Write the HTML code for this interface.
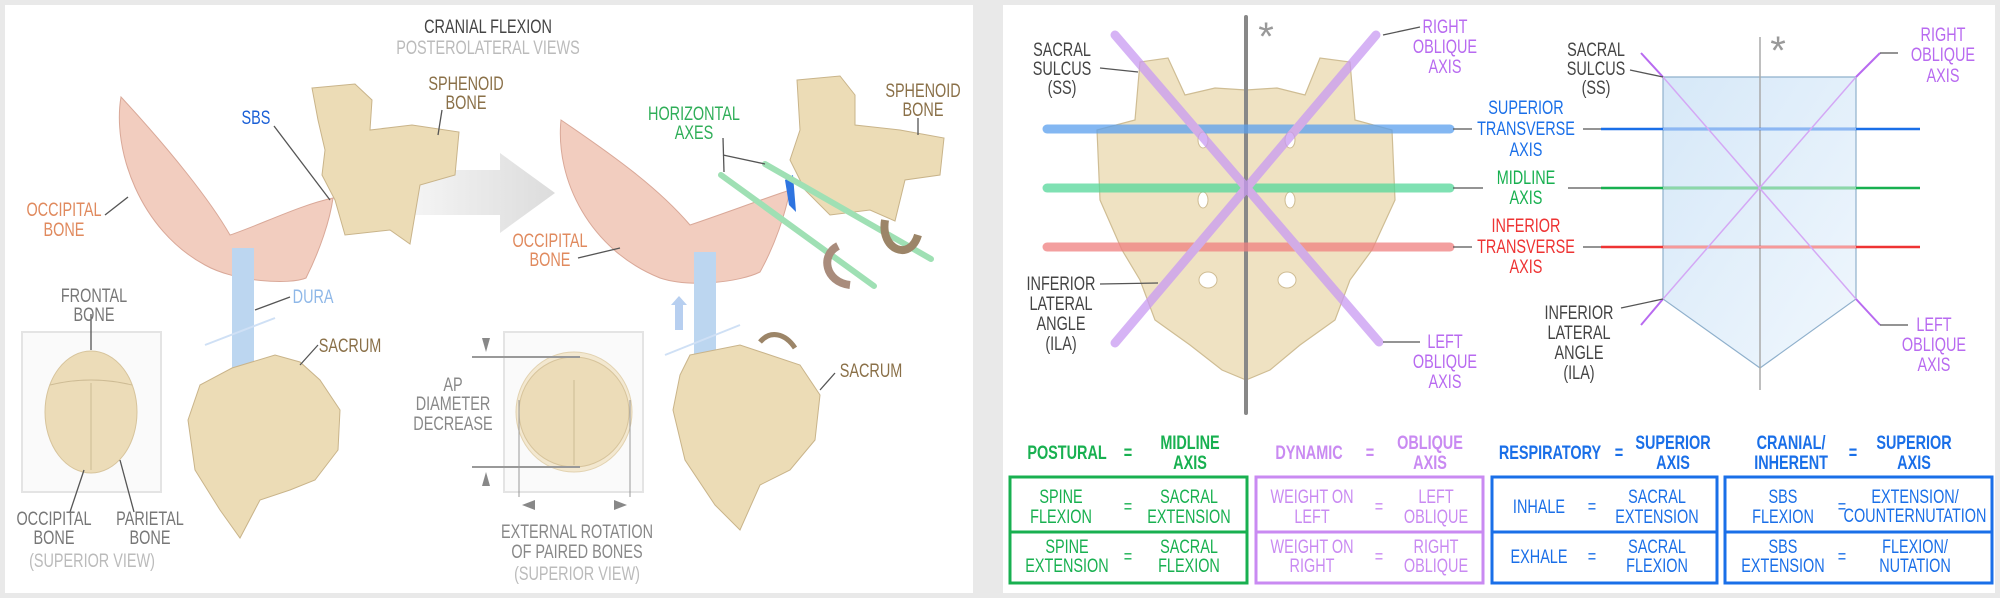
<!DOCTYPE html>
<html><head><meta charset="utf-8"><style>
html,body{margin:0;padding:0;background:#e9e9e9;}
svg{display:block}
text{font-family:"Liberation Sans Narrow","Liberation Sans",sans-serif;text-anchor:middle;font-size:19px;transform-box:fill-box;transform-origin:center;transform:scaleX(0.76)}
text.ast{transform:none;font-size:40px}
</style></head><body>
<svg width="2000" height="598" viewBox="0 0 2000 598" xmlns="http://www.w3.org/2000/svg">
<defs>
<linearGradient id="arr" x1="0" x2="1"><stop offset="0" stop-color="#f4f4f4"/><stop offset="1" stop-color="#dcdcdc"/></linearGradient>
<linearGradient id="pent" x1="0" y1="0" x2="1" y2="1"><stop offset="0" stop-color="#d6e8f8"/><stop offset="1" stop-color="#f0f7fd"/></linearGradient>
</defs>
<rect x="0" y="0" width="2000" height="598" fill="#e9e9e9"/>
<rect x="5" y="5" width="968" height="588" fill="#fff"/>
<rect x="1003" y="5" width="992" height="588" fill="#fff"/>

<text x="488" y="33" font-size="28" fill="#444">CRANIAL FLEXION</text>
<text x="488" y="54" font-size="17" fill="#bbb">POSTEROLATERAL VIEWS</text>

<polygon points="415,170 500,170 500,153 555,193 500,233 500,215 415,215" fill="url(#arr)"/>

<path d="M121,97 C112,150 140,230 205,265 C235,282 290,285 306,278 C320,250 330,220 333,198 C300,205 260,225 230,235 C210,200 170,150 121,97 Z" fill="#f2cdbf" stroke="#d9a898" stroke-width="1"/>
<path d="M312,88 L355,84 L372,100 L370,130 L412,125 L459,132 L455,175 L420,185 L410,244 L390,230 L345,235 L335,200 L322,175 L325,150 L318,120 Z" fill="#ecdcb6" stroke="#c9b48a" stroke-width="1"/>
<rect x="232" y="248" width="22" height="130" fill="#bcd6f0"/>
<line x1="205" y1="345" x2="275" y2="318" stroke="#cfe0f5" stroke-width="2"/>
<path d="M232,368 L275,355 L300,362 L320,380 L340,410 L338,450 L315,480 L290,490 L260,500 L240,538 L220,510 L195,470 L188,420 L200,385 Z" fill="#ecdcb6" stroke="#c9b48a" stroke-width="1"/>

<path d="M561,120 C555,180 590,250 660,278 C690,288 740,282 760,272 C775,245 785,215 790,190 C760,200 720,215 690,225 C660,190 620,160 561,120 Z" fill="#f2cdbf" stroke="#d9a898" stroke-width="1"/>
<path d="M797,80 L840,76 L855,95 L855,125 L900,130 L944,138 L940,175 L905,180 L895,221 L870,210 L830,215 L805,190 L790,160 L800,130 Z" fill="#ecdcb6" stroke="#c9b48a" stroke-width="1"/>
<polygon points="785,180 793,175 796,212 789,205" fill="#2e74e0"/>
<line x1="721" y1="175" x2="874" y2="286" stroke="#9fe0b4" stroke-width="6" stroke-linecap="round"/>
<line x1="765" y1="164" x2="931" y2="259" stroke="#9fe0b4" stroke-width="6" stroke-linecap="round"/>
<path d="M838,246 C820,255 825,282 850,285" fill="none" stroke="#a98c7c" stroke-width="8"/>
<path d="M885,220 C880,250 910,262 918,235" fill="none" stroke="#9c8568" stroke-width="8"/>
<rect x="694" y="252" width="22" height="128" fill="#bcd6f0"/>
<polygon points="679,296 687,305 683,305 683,330 675,330 675,305 671,305" fill="#b7cff0"/>
<line x1="665" y1="355" x2="740" y2="325" stroke="#cfe0f5" stroke-width="2"/>
<path d="M690,355 L740,345 L770,355 L800,365 L820,395 L815,440 L790,470 L760,485 L740,530 L715,505 L685,460 L673,410 L680,375 Z" fill="#ecdcb6" stroke="#c9b48a" stroke-width="1"/>
<path d="M760,342 C770,330 785,333 795,348" fill="none" stroke="#9c8568" stroke-width="5"/>

<rect x="22" y="332" width="139" height="160" fill="#fafafa" stroke="#e4e4e4" stroke-width="2"/>
<ellipse cx="91" cy="412" rx="46" ry="61" fill="#ecdcb8" stroke="#d7c49c"/>
<line x1="91" y1="383" x2="91" y2="470" stroke="#cdbb94"/>
<path d="M50,385 Q91,375 132,385" fill="none" stroke="#cdbb94"/>
<rect x="504" y="332" width="139" height="160" fill="#fafafa" stroke="#e4e4e4" stroke-width="2"/>
<ellipse cx="574" cy="412" rx="58" ry="60" fill="#f3e8d0" stroke="#e2d2b0"/>
<ellipse cx="574" cy="412" rx="55" ry="55" fill="#ecdcb8" stroke="#d7c49c"/>
<line x1="574" y1="380" x2="574" y2="465" stroke="#cdbb94"/>
<line x1="472" y1="357" x2="580" y2="357" stroke="#999" stroke-width="2"/>
<line x1="472" y1="467" x2="580" y2="467" stroke="#999" stroke-width="2"/>
<polygon points="482,338 490,338 486,352" fill="#888"/>
<polygon points="482,486 490,486 486,472" fill="#888"/>
<line x1="519" y1="400" x2="519" y2="497" stroke="#999"/>
<line x1="630" y1="400" x2="630" y2="497" stroke="#999"/>
<polygon points="522,505 535,500 535,510" fill="#888"/>
<polygon points="627,505 614,500 614,510" fill="#888"/>

<g stroke="#555" stroke-width="1.3" fill="none">
<line x1="442" y1="110" x2="438" y2="135"/>
<line x1="274" y1="126" x2="330" y2="200"/>
<line x1="105" y1="215" x2="128" y2="197"/>
<line x1="290" y1="297" x2="255" y2="310"/>
<line x1="91" y1="314" x2="91" y2="350"/>
<line x1="318" y1="345" x2="300" y2="365"/>
<line x1="70" y1="512" x2="84" y2="470"/>
<line x1="134" y1="512" x2="120" y2="460"/>
<line x1="723" y1="138" x2="724" y2="172"/><line x1="723" y1="155" x2="765" y2="164"/>
<line x1="918" y1="118" x2="918" y2="135"/>
<line x1="578" y1="258" x2="620" y2="248"/>
<line x1="835" y1="373" x2="820" y2="390"/>
</g>

<g>
<text x="466" y="90" fill="#8a7048">SPHENOID</text><text x="466" y="109" fill="#8a7048">BONE</text>
<text x="256" y="124" fill="#1a5fd6">SBS</text>
<text x="64" y="216" fill="#e08a5e">OCCIPITAL</text><text x="64" y="236" fill="#e08a5e">BONE</text>
<text x="313" y="303" fill="#8fb8e8">DURA</text>
<text x="94" y="302" fill="#777">FRONTAL</text><text x="94" y="321" fill="#777">BONE</text>
<text x="350" y="352" fill="#8a7048">SACRUM</text>
<text x="54" y="525" fill="#777">OCCIPITAL</text><text x="54" y="544" fill="#777">BONE</text>
<text x="150" y="525" fill="#777">PARIETAL</text><text x="150" y="544" fill="#777">BONE</text>
<text x="92" y="567" fill="#bbb">(SUPERIOR VIEW)</text>
<text x="694" y="120" fill="#2fae58">HORIZONTAL</text><text x="694" y="139" fill="#2fae58">AXES</text>
<text x="923" y="97" fill="#8a7048">SPHENOID</text><text x="923" y="116" fill="#8a7048">BONE</text>
<text x="550" y="247" fill="#e08a5e">OCCIPITAL</text><text x="550" y="266" fill="#e08a5e">BONE</text>
<text x="453" y="391" fill="#888">AP</text><text x="453" y="410" fill="#888">DIAMETER</text><text x="453" y="430" fill="#888">DECREASE</text>
<text x="577" y="538" fill="#888">EXTERNAL ROTATION</text><text x="577" y="558" fill="#888">OF PAIRED BONES</text>
<text x="577" y="580" fill="#bbb">(SUPERIOR VIEW)</text>
<text x="871" y="377" fill="#8a7048">SACRUM</text>
</g>

<!-- RIGHT PANEL -->
<path d="M1140,62 L1168,58 L1185,95 L1215,88 L1246,90 L1277,88 L1305,95 L1320,58 L1350,62 L1355,120 L1392,130 L1395,200 L1372,250 L1350,280 L1335,320 L1300,345 L1270,370 L1246,380 L1222,370 L1190,345 L1155,320 L1140,280 L1122,250 L1100,200 L1097,130 L1135,120 Z" fill="#efe2c2" stroke="#cfbd94" stroke-width="1.2"/>
<g fill="#fff" stroke="#cfbd94"><ellipse cx="1203" cy="140" rx="5" ry="8"/><ellipse cx="1290" cy="140" rx="5" ry="8"/><ellipse cx="1203" cy="200" rx="5" ry="8"/><ellipse cx="1290" cy="200" rx="5" ry="8"/><ellipse cx="1208" cy="280" rx="9" ry="8"/><ellipse cx="1287" cy="280" rx="9" ry="8"/></g>
<line x1="1246" y1="17" x2="1246" y2="413" stroke="#888" stroke-width="4" stroke-linecap="round"/>
<text class="ast" x="1266" y="50" fill="#999">*</text>
<g stroke-width="9" stroke-linecap="round" opacity="0.75">
<line x1="1047" y1="129" x2="1450" y2="129" stroke="#5aa0ee"/>
<line x1="1047" y1="188" x2="1450" y2="188" stroke="#55d89a"/>
<line x1="1047" y1="247" x2="1450" y2="247" stroke="#f08080"/>
<line x1="1115" y1="35" x2="1379" y2="342" stroke="#c99af2"/>
<line x1="1376" y1="35" x2="1115" y2="343" stroke="#c99af2"/>
</g>

<polygon points="1663,77 1856,77 1856,299 1760,368 1663,299" fill="url(#pent)" stroke="#8fb0cc" stroke-width="1.2"/>
<line x1="1760" y1="37" x2="1760" y2="390" stroke="#aaa" stroke-width="1.5"/>
<text class="ast" x="1778" y="64" fill="#999">*</text>
<g stroke-width="2.5">
<line x1="1601" y1="129" x2="1920" y2="129" stroke="#1a6fe8"/>
<line x1="1601" y1="188" x2="1920" y2="188" stroke="#18b050"/>
<line x1="1601" y1="247" x2="1920" y2="247" stroke="#ee3333"/>
</g>
<g stroke="#fff" stroke-width="2" opacity="0.5"><line x1="1663" y1="129" x2="1856" y2="129"/><line x1="1663" y1="188" x2="1856" y2="188"/><line x1="1663" y1="247" x2="1856" y2="247"/></g>
<g stroke="#d4a8f5" stroke-width="1.5"><line x1="1663" y1="77" x2="1856" y2="299"/><line x1="1856" y1="77" x2="1663" y2="299"/></g>
<g stroke="#b86af0" stroke-width="2"><line x1="1641" y1="53" x2="1663" y2="77"/><line x1="1880" y1="53" x2="1856" y2="77"/><line x1="1641" y1="325" x2="1663" y2="299"/><line x1="1880" y1="325" x2="1856" y2="299"/></g>

<g stroke="#555" stroke-width="1.3" fill="none">
<line x1="1100" y1="68" x2="1138" y2="72"/>
<line x1="1383" y1="35" x2="1420" y2="27"/>
<line x1="1453" y1="129" x2="1472" y2="129"/>
<line x1="1453" y1="188" x2="1483" y2="188"/>
<line x1="1453" y1="247" x2="1472" y2="247"/>
<line x1="1100" y1="284" x2="1158" y2="283"/>
<line x1="1383" y1="342" x2="1420" y2="342"/>
<line x1="1630" y1="70" x2="1663" y2="77"/>
<line x1="1583" y1="129" x2="1601" y2="129"/>
<line x1="1568" y1="188" x2="1601" y2="188"/>
<line x1="1583" y1="247" x2="1601" y2="247"/>
<line x1="1621" y1="308" x2="1663" y2="299"/>
<line x1="1880" y1="53" x2="1898" y2="53"/>
<line x1="1880" y1="325" x2="1908" y2="325"/>
</g>

<g>
<text x="1062" y="56" fill="#444">SACRAL</text><text x="1062" y="75" fill="#444">SULCUS</text><text x="1062" y="94" fill="#444">(SS)</text>
<text x="1445" y="33" fill="#b86af0">RIGHT</text><text x="1445" y="53" fill="#b86af0">OBLIQUE</text><text x="1445" y="73" fill="#b86af0">AXIS</text>
<text x="1526" y="114" fill="#1a6fe8">SUPERIOR</text><text x="1526" y="135" fill="#1a6fe8">TRANSVERSE</text><text x="1526" y="156" fill="#1a6fe8">AXIS</text>
<text x="1526" y="184" fill="#18b050">MIDLINE</text><text x="1526" y="204" fill="#18b050">AXIS</text>
<text x="1526" y="232" fill="#ee3333">INFERIOR</text><text x="1526" y="253" fill="#ee3333">TRANSVERSE</text><text x="1526" y="273" fill="#ee3333">AXIS</text>
<text x="1061" y="290" fill="#444">INFERIOR</text><text x="1061" y="310" fill="#444">LATERAL</text><text x="1061" y="330" fill="#444">ANGLE</text><text x="1061" y="350" fill="#444">(ILA)</text>
<text x="1445" y="348" fill="#b86af0">LEFT</text><text x="1445" y="368" fill="#b86af0">OBLIQUE</text><text x="1445" y="388" fill="#b86af0">AXIS</text>
<text x="1596" y="56" fill="#444">SACRAL</text><text x="1596" y="75" fill="#444">SULCUS</text><text x="1596" y="94" fill="#444">(SS)</text>
<text x="1943" y="41" fill="#b86af0">RIGHT</text><text x="1943" y="61" fill="#b86af0">OBLIQUE</text><text x="1943" y="82" fill="#b86af0">AXIS</text>
<text x="1579" y="319" fill="#444">INFERIOR</text><text x="1579" y="339" fill="#444">LATERAL</text><text x="1579" y="359" fill="#444">ANGLE</text><text x="1579" y="379" fill="#444">(ILA)</text>
<text x="1934" y="331" fill="#b86af0">LEFT</text><text x="1934" y="351" fill="#b86af0">OBLIQUE</text><text x="1934" y="371" fill="#b86af0">AXIS</text>
</g>

<g fill="none" stroke-width="3">
<rect x="1010" y="477" width="237" height="106" stroke="#18b050"/><line x1="1010" y1="532" x2="1247" y2="532" stroke="#18b050"/>
<rect x="1256" y="477" width="227" height="106" stroke="#c98af2"/><line x1="1256" y1="532" x2="1483" y2="532" stroke="#c98af2"/>
<rect x="1492" y="477" width="225" height="106" stroke="#1a6fe8"/><line x1="1492" y1="532" x2="1717" y2="532" stroke="#1a6fe8"/>
<rect x="1725" y="477" width="267" height="106" stroke="#1a6fe8"/><line x1="1725" y1="532" x2="1992" y2="532" stroke="#1a6fe8"/>
</g>
<g font-weight="bold">
<g fill="#18b050"><text x="1067" y="459">POSTURAL</text><text x="1128" y="459">=</text><text x="1190" y="449">MIDLINE</text><text x="1190" y="469">AXIS</text></g>
<g fill="#c98af2"><text x="1309" y="459">DYNAMIC</text><text x="1370" y="459">=</text><text x="1430" y="449">OBLIQUE</text><text x="1430" y="469">AXIS</text></g>
<g fill="#1a6fe8"><text x="1550" y="459">RESPIRATORY</text><text x="1619" y="459">=</text><text x="1673" y="449">SUPERIOR</text><text x="1673" y="469">AXIS</text>
<text x="1791" y="449">CRANIAL/</text><text x="1791" y="469">INHERENT</text><text x="1853" y="459">=</text><text x="1914" y="449">SUPERIOR</text><text x="1914" y="469">AXIS</text></g>
</g>
<g>
<g fill="#18b050"><text x="1061" y="503">SPINE</text><text x="1061" y="523">FLEXION</text><text x="1128" y="513">=</text><text x="1189" y="503">SACRAL</text><text x="1189" y="523">EXTENSION</text>
<text x="1067" y="553">SPINE</text><text x="1067" y="572">EXTENSION</text><text x="1128" y="563">=</text><text x="1189" y="553">SACRAL</text><text x="1189" y="572">FLEXION</text></g>
<g fill="#c98af2"><text x="1312" y="503">WEIGHT ON</text><text x="1312" y="523">LEFT</text><text x="1379" y="513">=</text><text x="1436" y="503">LEFT</text><text x="1436" y="523">OBLIQUE</text>
<text x="1312" y="553">WEIGHT ON</text><text x="1312" y="572">RIGHT</text><text x="1379" y="563">=</text><text x="1436" y="553">RIGHT</text><text x="1436" y="572">OBLIQUE</text></g>
<g fill="#1a6fe8"><text x="1539" y="513">INHALE</text><text x="1592" y="513">=</text><text x="1657" y="503">SACRAL</text><text x="1657" y="523">EXTENSION</text>
<text x="1539" y="563">EXHALE</text><text x="1592" y="563">=</text><text x="1657" y="553">SACRAL</text><text x="1657" y="572">FLEXION</text>
<text x="1783" y="503">SBS</text><text x="1783" y="523">FLEXION</text><text x="1842" y="513">=</text><text x="1915" y="503">EXTENSION/</text><text x="1915" y="522" font-size="14">COUNTERNUTATION</text>
<text x="1783" y="553">SBS</text><text x="1783" y="572">EXTENSION</text><text x="1842" y="563">=</text><text x="1915" y="553">FLEXION/</text><text x="1915" y="572">NUTATION</text></g>
</g>
</svg>
</body></html>
